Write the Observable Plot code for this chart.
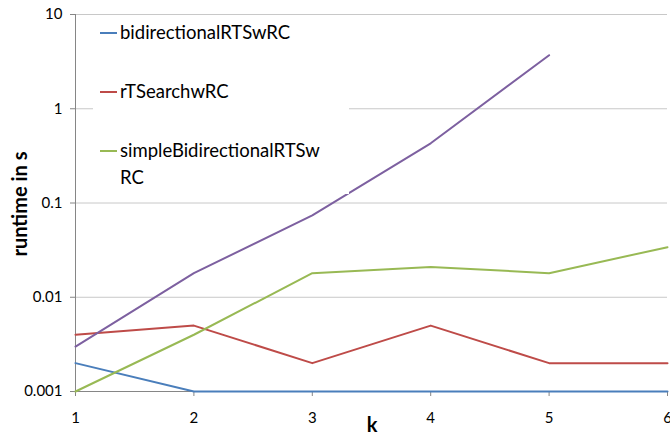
<!DOCTYPE html>
<html>
<head>
<meta charset="utf-8">
<script src="https://cdn.jsdelivr.net/npm/d3@7"></script>
<script src="https://cdn.jsdelivr.net/npm/@observablehq/plot@0.6"></script>
<style>
  html, body { margin: 0; padding: 0; background: #fff; }
  #wrap { position: relative; width: 670px; height: 435px; font-family: Lato, "Open Sans", sans-serif; }
  #legend { position: absolute; left: 93px; top: 17px; width: 256px; height: 177px; background: #fff; }
  .entry { position: absolute; left: 0; font-size: 18.5px; color: #000; line-height: 27px; }
  .swatch { position: absolute; left: 7px; width: 17px; height: 0; border-top: 2px solid; }
  .label { position: absolute; left: 27px; white-space: nowrap; }
</style>
</head>
<body>
<div id="wrap"></div>
<script>
// Data
const kValues = [1, 2, 3, 4, 5, 6];
const bidirectionalRTSwRC = [0.002, 0.001, 0.001, 0.001, 0.001, 0.001];
const rTSearchwRC = [0.004, 0.005, 0.002, 0.005, 0.002, 0.002];
const simpleBidirectionalRTSwRC = [0.001, 0.004, 0.018, 0.021, 0.018, 0.034];
const fourthSeries = [0.003, 0.018, 0.074, 0.43, 3.7, null];
const seriesNames = ["bidirectionalRTSwRC", "rTSearchwRC", "simpleBidirectionalRTSwRC", "series4"];
const seriesColors = ["#4A7EBB", "#BE4B48", "#98B954", "#7D60A0"];
const yTicks = [0.001, 0.01, 0.1, 1, 10];
const yTickLabels = ["0.001", "0.01", "0.1", "1", "10"];

const allSeries = [bidirectionalRTSwRC, rTSearchwRC, simpleBidirectionalRTSwRC, fourthSeries];
const rows = [];
allSeries.forEach((vals, si) => {
  vals.forEach((v, i) => { if (v != null) rows.push({k: kValues[i], v, s: seriesNames[si]}); });
});

const font = "Lato, 'Open Sans', sans-serif";
const plot = Plot.plot({
  width: 670,
  height: 435,
  marginLeft: 75,
  marginRight: 3,
  marginTop: 14,
  marginBottom: 44,
  style: {fontFamily: font, fontSize: "15px", color: "#000", background: "#fff"},
  x: {domain: [1, 6]},
  y: {type: "log", domain: [0.001, 10]},
  color: {domain: seriesNames, range: seriesColors},
  marks: [
    Plot.ruleY(yTicks.slice(1), {stroke: "#c8c8c8", strokeWidth: 1}),
    Plot.axisY({ticks: yTicks, tickFormat: (d) => yTickLabels[yTicks.indexOf(d)], tickSize: 5, tickPadding: 8, label: null, stroke: "#868686", fill: "#000", fontSize: 15}),
    Plot.axisX({ticks: kValues, tickFormat: d => String(d), tickSize: 5, tickPadding: 16, label: null, stroke: "#868686", fill: "#000", fontSize: 15}),
    Plot.ruleX([1], {stroke: "#868686"}),
    Plot.ruleY([0.001], {stroke: "#868686"}),
    Plot.line(rows, {x: "k", y: "v", z: "s", stroke: "s", strokeWidth: 2})
  ]
});

const svg = d3.select(plot);
svg.append("text")
  .attr("transform", "translate(27,204) rotate(-90)")
  .attr("text-anchor", "middle")
  .attr("font-family", font)
  .attr("font-weight", "bold")
  .attr("font-size", 20)
  .text("runtime in s");
svg.append("text")
  .attr("x", 372).attr("y", 432)
  .attr("text-anchor", "middle")
  .attr("font-family", font)
  .attr("font-weight", "bold")
  .attr("font-size", 20)
  .text("k");

const wrap = document.getElementById("wrap");
wrap.appendChild(plot);

// Legend (first three entries visible, as in the reference)
const legend = document.createElement("div");
legend.id = "legend";
const legendLabels = [["bidirectionalRTSwRC"], ["rTSearchwRC"], ["simpleBidirectionalRTSw", "RC"]];
const legendTops = [2, 61, 120];
legendLabels.forEach((lines, i) => {
  const e = document.createElement("div");
  e.className = "entry";
  e.style.top = legendTops[i] + "px";
  const sw = document.createElement("div");
  sw.className = "swatch";
  sw.style.top = "13px";
  sw.style.borderTopColor = seriesColors[i];
  const lb = document.createElement("div");
  lb.className = "label";
  lb.innerHTML = lines.join("<br>");
  e.appendChild(sw); e.appendChild(lb);
  legend.appendChild(e);
});
wrap.appendChild(legend);
</script>
</body>
</html>
